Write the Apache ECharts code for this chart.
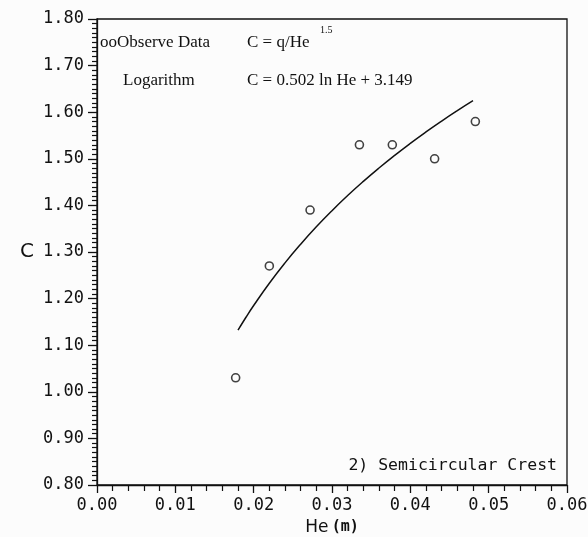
<!DOCTYPE html>
<html>
<head>
<meta charset="utf-8">
<script src="https://cdn.jsdelivr.net/npm/echarts@6/dist/echarts.min.js"></script>
<style>
  html, body { margin: 0; padding: 0; background: #fcfcfc; }
  #chart { width: 588px; height: 537px; }
</style>
</head>
<body>
<div id="chart"></div>
<script>
// Observed discharge coefficient C against head He (m)
const obsHe = [0.0177, 0.0220, 0.0272, 0.0335, 0.0377, 0.0431, 0.0483];
const obsC  = [1.03, 1.27, 1.39, 1.53, 1.53, 1.50, 1.58];

// Logarithmic fit C = a ln He + b, coefficients as printed on the chart
const fitCoef = [0.502, 3.149];
const fitHe = [0.018, 0.019, 0.020, 0.022, 0.024, 0.026, 0.028, 0.030, 0.032,
               0.034, 0.036, 0.038, 0.040, 0.042, 0.044, 0.046, 0.048];

// Axis tick labels
const xTicks = ['0.00', '0.01', '0.02', '0.03', '0.04', '0.05', '0.06'];
const yTicks = ['0.80', '0.90', '1.00', '1.10', '1.20', '1.30', '1.40', '1.50', '1.60', '1.70', '1.80'];

const obsData = obsHe.map((h, i) => [h, obsC[i]]);
const fitData = fitHe.map(h => [h, fitCoef[0] * Math.log(h) + fitCoef[1]]);

const INK = '#111';
const MONO = '"DejaVu Sans Mono", "Liberation Mono", monospace';
const SERIF = '"Liberation Serif", "DejaVu Serif", serif';

const chart = echarts.init(document.getElementById('chart'), null, { renderer: 'canvas' });

chart.setOption({
  backgroundColor: '#fcfcfc',
  animation: false,
  grid: {
    left: 97, right: 21, top: 19, bottom: 52,
    outerBoundsMode: 'none',
    containLabel: false,
    show: true, borderColor: INK, borderWidth: 1.3, backgroundColor: 'transparent'
  },
  xAxis: {
    type: 'value',
    min: 0, max: 0.06, interval: 0.01,
    name: '{he|He} {m|(m)}',
    nameLocation: 'middle',
    nameGap: 29,
    nameTextStyle: {
      rich: {
        he: { fontFamily: '"DejaVu Sans", sans-serif', fontSize: 17, color: INK },
        m: { fontFamily: MONO, fontSize: 15, fontWeight: 'bold', color: INK }
      }
    },
    axisLine: { show: true, lineStyle: { color: INK, width: 1.3 } },
    axisTick: { show: true, inside: false, length: 8, lineStyle: { color: INK, width: 1.3 } },
    minorTick: { show: true, splitNumber: 5, length: 6, lineStyle: { color: INK, width: 1.2 } },
    splitLine: { show: false },
    axisLabel: {
      margin: 12,
      fontFamily: MONO, fontSize: 17, color: INK,
      formatter: (v) => xTicks[Math.round(v / 0.01)]
    }
  },
  yAxis: {
    type: 'value',
    min: 0.8, max: 1.8, interval: 0.1,
    name: 'C',
    nameLocation: 'middle',
    nameRotate: 0,
    nameGap: 63,
    nameTextStyle: { fontFamily: '"DejaVu Sans", sans-serif', fontSize: 20, color: INK, padding: [0, 0, 14, 0] },
    axisLine: { show: true, lineStyle: { color: INK, width: 1.3 } },
    axisTick: { show: true, inside: false, length: 9, lineStyle: { color: INK, width: 1.3 } },
    minorTick: { show: true, splitNumber: 10, length: 5, lineStyle: { color: INK, width: 1.2 } },
    splitLine: { show: false },
    axisLabel: {
      margin: 13,
      fontFamily: MONO, fontSize: 17, color: INK,
      formatter: (v) => yTicks[Math.round((v - 0.8) / 0.1)]
    }
  },
  series: [
    {
      name: 'Logarithm',
      type: 'line',
      data: fitData,
      smooth: true,
      showSymbol: false,
      lineStyle: { color: INK, width: 1.5 },
      z: 2
    },
    {
      name: 'Observe Data',
      type: 'scatter',
      data: obsData,
      symbol: 'circle',
      symbolSize: 8,
      itemStyle: { color: '#fcfcfc', borderColor: INK, borderWidth: 1.6 },
      z: 3
    }
  ],
  graphic: [
    {
      type: 'text', left: 100, top: 34,
      style: { text: 'ooObserve Data', font: '17px ' + SERIF, fill: INK }
    },
    {
      type: 'text', left: 247, top: 34,
      style: { text: 'C = q/He', font: '17px ' + SERIF, fill: INK }
    },
    {
      type: 'text', left: 320, top: 25,
      style: { text: '1.5', font: '10px ' + SERIF, fill: INK }
    },
    {
      type: 'text', left: 123, top: 72,
      style: { text: 'Logarithm', font: '17px ' + SERIF, fill: INK }
    },
    {
      type: 'text', left: 247, top: 72,
      style: { text: 'C = 0.502 ln He + 3.149', font: '17px ' + SERIF, fill: INK }
    },
    {
      type: 'text', right: 31, top: 457,
      style: { text: '2) Semicircular Crest', font: '16.5px ' + MONO, fill: INK }
    }
  ]
});
</script>
</body>
</html>
